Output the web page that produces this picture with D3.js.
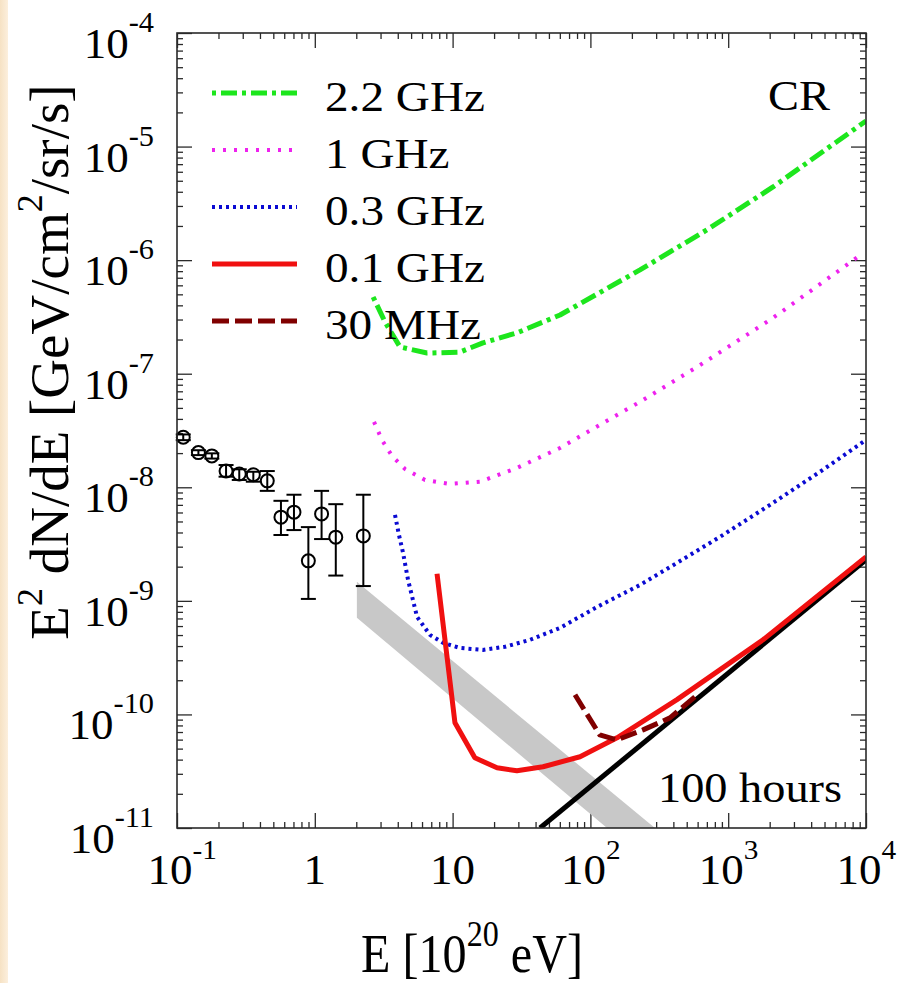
<!DOCTYPE html>
<html>
<head>
<meta charset="utf-8">
<script src="https://cdn.jsdelivr.net/npm/d3@7"></script>
<style>
  body { margin: 0; background: #fff; }
</style>
</head>
<body>
<svg id="chart"></svg>
<script>
// values (E in 1e20 eV, flux in GeV/cm2/sr/s)
const ghz22E = [2.65, 3.23, 4.15, 6.52, 11.3, 16.6, 29.3, 60.2, 229, 702, 2114, 10000];
const ghz22V = [4.74e-7, 2.86e-7, 1.72e-7, 1.52e-7, 1.55e-7, 1.87e-7, 2.29e-7, 3.29e-7, 8.2e-7, 1.85e-6, 4.41e-6, 1.68e-5];

const ghz1E = [2.69, 3.07, 3.63, 4.51, 6.31, 9.57, 15.8, 29.3, 60.2, 117, 229, 624, 2114, 8750];
const ghz1V = [3.77e-8, 2.61e-8, 1.89e-8, 1.45e-8, 1.16e-8, 1.07e-8, 1.12e-8, 1.48e-8, 2.22e-8, 3.54e-8, 5.65e-8, 1.19e-7, 3.1e-7, 1.07e-6];

const ghz03E = [3.82, 4.08, 4.37, 4.75, 5.52, 6.85, 8.52, 11.3, 16.6, 24.0, 36.5, 60.2, 112, 229, 425, 872, 2011, 4637, 10000];
const ghz03V = [5.71e-9, 3.81e-9, 2.65e-9, 1.53e-9, 7.23e-10, 5.02e-10, 4.27e-10, 3.85e-10, 3.7e-10, 3.94e-10, 4.54e-10, 5.78e-10, 8.85e-10, 1.38e-9, 2.16e-9, 3.66e-9, 7.0e-9, 1.37e-8, 2.61e-8];

const ghz01E = [7.71, 10.4, 14.5, 21.0, 29.3, 45.3, 84.1, 156, 425, 1789, 10000];
const ghz01V = [1.73e-9, 8.44e-11, 4.15e-11, 3.39e-11, 3.19e-11, 3.46e-11, 4.24e-11, 6.22e-11, 1.35e-10, 4.54e-10, 2.44e-9];

const mhz30E = [77.3, 117, 156, 241, 378, 574];
const mhz30V = [1.49e-10, 6.6e-11, 5.97e-11, 7.31e-11, 9.33e-11, 1.43e-10];

const hoursE = [43.1, 10000];
const hoursV = [1e-11, 2.3e-9];

// grey band corners [E, flux]
const bandPts = [[2.02, 1.47e-9], [294, 1e-11], [132, 1e-11], [2.02, 7.1e-10]];

// cosmic ray data points with error bars
const crE = [0.111, 0.143, 0.179, 0.227, 0.283, 0.358, 0.452, 0.568, 0.706, 0.898, 1.12, 1.42, 2.25];
const crV = [2.76e-8, 2.02e-8, 1.89e-8, 1.39e-8, 1.31e-8, 1.29e-8, 1.14e-8, 5.46e-9, 6.04e-9, 2.25e-9, 5.83e-9, 3.64e-9, 3.73e-9];
const crLo = [2.6e-8, 1.92e-8, 1.79e-8, 1.24e-8, 1.16e-8, 1.12e-8, 9.3e-9, 3.8e-9, 4.2e-9, 1.04e-9, 3.5e-9, 1.67e-9, 1.35e-9];
const crHi = [2.92e-8, 2.12e-8, 1.99e-8, 1.57e-8, 1.44e-8, 1.37e-8, 1.39e-8, 7.6e-9, 8.6e-9, 4.46e-9, 9.3e-9, 7.1e-9, 8.6e-9];

const legendLabels = ["2.2 GHz", "1 GHz", "0.3 GHz", "0.1 GHz", "30 MHz"];

const xTickValues = [0.1, 1, 10, 100, 1000, 10000];
const xTickLabels = [["10", "-1"], ["1", ""], ["10", ""], ["10", "2"], ["10", "3"], ["10", "4"]];
const yTickValues = [1e-4, 1e-5, 1e-6, 1e-7, 1e-8, 1e-9, 1e-10, 1e-11];
const yTickLabels = [["10", "-4"], ["10", "-5"], ["10", "-6"], ["10", "-7"], ["10", "-8"], ["10", "-9"], ["10", "-10"], ["10", "-11"]];

const WIDTH = 898;
const HEIGHT = 983;
const CHART_START_X = 177;
const CHART_END_X = 866;
const CHART_START_Y = 33;
const CHART_END_Y = 828;

const FONT = "'Liberation Serif', 'Times New Roman', 'DejaVu Serif', serif";
const FRAME_COLOR = "#2a2a2a";
const MAJOR_TICK = 15;
const MINOR_TICK = 6;
const LABEL_SIZE = 43;
const SUP_SIZE = 29;

const SERIES = [
  { label: legendLabels[0], xs: ghz22E, ys: ghz22V, color: "#1de61d", width: 5, dash: "4,5,16,5" },
  { label: legendLabels[1], xs: ghz1E, ys: ghz1V, color: "#ee22ee", width: 4, dash: "3,8" },
  { label: legendLabels[2], xs: ghz03E, ys: ghz03V, color: "#0a0ad2", width: 4, dash: "3,4" },
  { label: legendLabels[3], xs: ghz01E, ys: ghz01V, color: "#f01010", width: 5, dash: null },
  { label: legendLabels[4], xs: mhz30E, ys: mhz30V, color: "#800000", width: 5, dash: "17,6" },
];

const svg = d3.select("#chart")
  .attr("width", WIDTH)
  .attr("height", HEIGHT)
  .attr("font-family", FONT)
  .style("display", "block");

// width of a string in the font actually available, used to fit text widths
function measure(str, size) {
  const t = svg.append("text").attr("font-size", size).text(str);
  const w = t.node().getComputedTextLength();
  t.remove();
  return w;
}
const TICK_SX = 45 / measure("10", LABEL_SIZE);
const LEGEND_SX = 160 / measure("2.2 GHz", LABEL_SIZE);
const CR_SX = 62 / measure("CR", LABEL_SIZE);
const HOURS_SX = 184 / measure("100 hours", LABEL_SIZE);

// slide background strip on the left
const defs = svg.append("defs");
const grad = defs.append("linearGradient").attr("id", "peach");
grad.append("stop").attr("offset", "0%").attr("stop-color", "#f6e2c4");
grad.append("stop").attr("offset", "100%").attr("stop-color", "#fcefdd");
svg.append("rect").attr("width", WIDTH).attr("height", HEIGHT).attr("fill", "#fff");
svg.append("rect").attr("width", 8).attr("height", HEIGHT).attr("fill", "url(#peach)");

defs.append("clipPath").attr("id", "plot-clip")
  .append("rect")
  .attr("x", CHART_START_X).attr("y", CHART_START_Y)
  .attr("width", CHART_END_X - CHART_START_X)
  .attr("height", CHART_END_Y - CHART_START_Y);

const xScale = d3.scaleLog().domain([0.1, 1e4]).range([CHART_START_X, CHART_END_X]);
const yScale = d3.scaleLog().domain([1e-11, 1e-4]).range([CHART_END_Y, CHART_START_Y]);

const isMajor = (v) => Math.abs(Math.log10(v) - Math.round(Math.log10(v))) < 1e-6;
const xMinor = xScale.ticks().filter((v) => !isMajor(v));
const yMinor = yScale.ticks().filter((v) => !isMajor(v));

// ticks on all four sides, pointing inward
function drawTicks(axisFn, scale, values, size, transform) {
  const g = svg.append("g")
    .attr("transform", transform)
    .call(axisFn(scale).tickValues(values).tickSize(-size).tickFormat(() => ""));
  g.select(".domain").remove();
  g.selectAll(".tick line").attr("stroke", FRAME_COLOR).attr("stroke-width", 1.3);
}
drawTicks(d3.axisBottom, xScale, xTickValues, MAJOR_TICK, `translate(0,${CHART_END_Y})`);
drawTicks(d3.axisBottom, xScale, xMinor, MINOR_TICK, `translate(0,${CHART_END_Y})`);
drawTicks(d3.axisTop, xScale, xTickValues, MAJOR_TICK, `translate(0,${CHART_START_Y})`);
drawTicks(d3.axisTop, xScale, xMinor, MINOR_TICK, `translate(0,${CHART_START_Y})`);
drawTicks(d3.axisLeft, yScale, yTickValues, MAJOR_TICK, `translate(${CHART_START_X},0)`);
drawTicks(d3.axisLeft, yScale, yMinor, MINOR_TICK, `translate(${CHART_START_X},0)`);
drawTicks(d3.axisRight, yScale, yTickValues, MAJOR_TICK, `translate(${CHART_END_X},0)`);
drawTicks(d3.axisRight, yScale, yMinor, MINOR_TICK, `translate(${CHART_END_X},0)`);

const plot = svg.append("g").attr("clip-path", "url(#plot-clip)");
const line = d3.line().x((d) => xScale(d[0])).y((d) => yScale(d[1]));

// grey band
plot.append("path")
  .attr("d", line(bandPts) + "Z")
  .attr("fill", "#c8c8c8");

// 100 hours line
plot.append("path")
  .datum(d3.zip(hoursE, hoursV))
  .attr("d", line)
  .attr("fill", "none")
  .attr("stroke", "#000")
  .attr("stroke-width", 5);

// sensitivity curves
SERIES.forEach((s) => {
  plot.append("path")
    .datum(d3.zip(s.xs, s.ys))
    .attr("d", line)
    .attr("fill", "none")
    .attr("stroke", s.color)
    .attr("stroke-width", s.width)
    .attr("stroke-dasharray", s.dash)
    .attr("stroke-linejoin", "round");
});

// CR data with error bars
const crData = d3.range(crE.length).map((i) => ({ e: crE[i], v: crV[i], lo: crLo[i], hi: crHi[i] }));
const crG = svg.append("g").attr("stroke", "#000").attr("fill", "none").attr("stroke-width", 2);
crG.selectAll(".err")
  .data(crData)
  .join("line")
  .classed("err", true)
  .attr("x1", (d) => xScale(d.e)).attr("x2", (d) => xScale(d.e))
  .attr("y1", (d) => yScale(d.lo)).attr("y2", (d) => yScale(d.hi));
["lo", "hi"].forEach((k) => {
  crG.selectAll(".cap-" + k)
    .data(crData)
    .join("line")
    .classed("cap-" + k, true)
    .attr("x1", (d) => xScale(d.e) - 7.5).attr("x2", (d) => xScale(d.e) + 7.5)
    .attr("y1", (d) => yScale(d[k])).attr("y2", (d) => yScale(d[k]));
});
crG.selectAll("circle")
  .data(crData)
  .join("circle")
  .attr("cx", (d) => xScale(d.e))
  .attr("cy", (d) => yScale(d.v))
  .attr("r", 6.5);

// frame
svg.append("rect")
  .attr("x", CHART_START_X).attr("y", CHART_START_Y)
  .attr("width", CHART_END_X - CHART_START_X)
  .attr("height", CHART_END_Y - CHART_START_Y)
  .attr("fill", "none")
  .attr("stroke", FRAME_COLOR)
  .attr("stroke-width", 1.6);

// tick labels with superscripts (horizontally squeezed to a Times-like width)
xTickValues.forEach((v, i) => {
  const [base, exp] = xTickLabels[i];
  const t = svg.append("text").attr("font-size", LABEL_SIZE).attr("fill", "#000");
  const b = t.append("tspan").text(base);
  if (exp) t.append("tspan").attr("font-size", SUP_SIZE - 1).attr("dy", -25).text(exp);
  const w = b.node().getComputedTextLength() * TICK_SX;
  const shift = exp ? 7 : 0;
  t.attr("transform", `translate(${xScale(v) - w / 2 - shift},884) scale(${TICK_SX},1)`);
});

yTickValues.forEach((v, i) => {
  const [base, exp] = yTickLabels[i];
  const t = svg.append("text")
    .attr("transform", `translate(154,${yScale(v) + 25}) scale(${TICK_SX},1)`)
    .attr("text-anchor", "end").attr("font-size", LABEL_SIZE).attr("fill", "#000");
  t.append("tspan").text(base);
  t.append("tspan").attr("font-size", SUP_SIZE).attr("dy", -26).text(exp);
});

// axis titles
const xTitle = svg.append("text")
  .attr("text-anchor", "middle").attr("font-size", 54);
xTitle.append("tspan").text("E [10");
xTitle.append("tspan").attr("font-size", 36).attr("dy", -26).text("20");
xTitle.append("tspan").attr("dy", 26).text(" eV]");
const xTitleSX = 222 / xTitle.node().getComputedTextLength();
xTitle.attr("transform", `translate(472,972) scale(${xTitleSX},1)`);

const yTitle = svg.append("text")
  .attr("transform", "translate(68,362) rotate(-90)")
  .attr("text-anchor", "middle").attr("font-size", 55);
yTitle.append("tspan").text("E");
yTitle.append("tspan").attr("font-size", 36).attr("dy", -26).text("2");
yTitle.append("tspan").attr("dy", 26).text(" dN/dE [GeV/cm");
yTitle.append("tspan").attr("font-size", 36).attr("dy", -26).text("2");
yTitle.append("tspan").attr("dy", 26).text("/sr/s]");

// legend
const legend = svg.append("g");
SERIES.forEach((s, i) => {
  const y = 93 + i * 57;
  legend.append("line")
    .attr("x1", 212).attr("x2", 297)
    .attr("y1", y).attr("y2", y)
    .attr("stroke", s.color)
    .attr("stroke-width", s.width)
    .attr("stroke-dasharray", s.dash);
  legend.append("text")
    .attr("transform", `translate(325,${y + 18}) scale(${LEGEND_SX},1)`)
    .attr("font-size", LABEL_SIZE)
    .text(s.label);
});

svg.append("text")
  .attr("transform", `translate(830,110) scale(${CR_SX},1)`)
  .attr("text-anchor", "end").attr("font-size", LABEL_SIZE).text("CR");
svg.append("text")
  .attr("transform", `translate(842,802) scale(${HOURS_SX},1)`)
  .attr("text-anchor", "end").attr("font-size", LABEL_SIZE).text("100 hours");
</script>
</body>
</html>
